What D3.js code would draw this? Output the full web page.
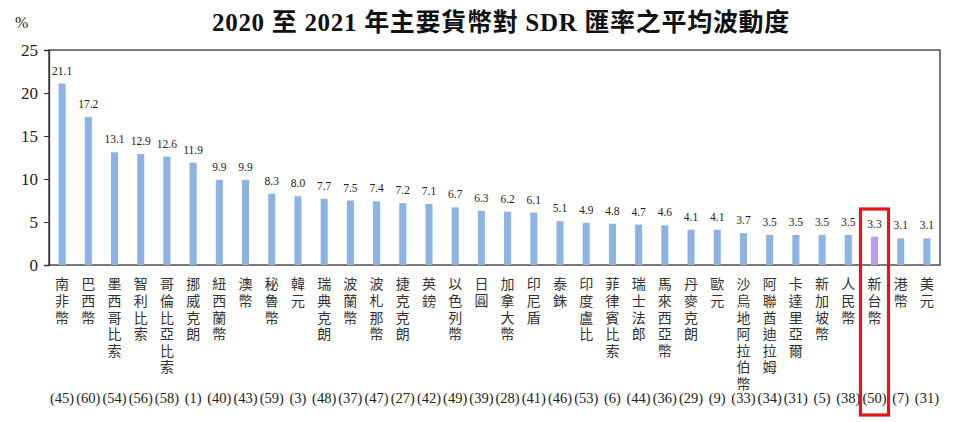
<!DOCTYPE html>
<html><head><meta charset="utf-8">
<script src="https://cdn.jsdelivr.net/npm/d3@7"></script>
<style>body{margin:0;background:#fff}svg{display:block}</style>
</head><body>
<script>
const categories = ["南非幣","巴西幣","墨西哥比索","智利比索","哥倫比亞比索","挪威克朗","紐西蘭幣","澳幣","秘魯幣","韓元","瑞典克朗","波蘭幣","波札那幣","捷克克朗","英鎊","以色列幣","日圓","加拿大幣","印尼盾","泰銖","印度盧比","菲律賓比索","瑞士法郎","馬來西亞幣","丹麥克朗","歐元","沙烏地阿拉伯幣","阿聯酋迪拉姆","卡達里亞爾","新加坡幣","人民幣","新台幣","港幣","美元"];
const values = [21.1,17.2,13.1,12.9,12.6,11.9,9.9,9.9,8.3,8.0,7.7,7.5,7.4,7.2,7.1,6.7,6.3,6.2,6.1,5.1,4.9,4.8,4.7,4.6,4.1,4.1,3.7,3.5,3.5,3.5,3.5,3.3,3.1,3.1];
const ranks = ["(45)","(60)","(54)","(56)","(58)","(1)","(40)","(43)","(59)","(3)","(48)","(37)","(47)","(27)","(42)","(49)","(39)","(28)","(41)","(46)","(53)","(6)","(44)","(36)","(29)","(9)","(33)","(34)","(31)","(5)","(38)","(50)","(7)","(31)"];
const yTicks = [0,5,10,15,20,25];
const highlight = "新台幣";
const title = "2020 至 2021 年主要貨幣對 SDR 匯率之平均波動度";

const W = 960, H = 422;
const m = {left:49, right:20, top:50, bottom:157};
const svg = d3.select("body").append("svg").attr("width",W).attr("height",H);
const x = d3.scaleBand().domain(categories).range([m.left, W-m.right]).paddingInner(0.73).paddingOuter(0.365);
const y = d3.scaleLinear().domain([0,25]).range([H-m.bottom, m.top]);
const serif = "'Liberation Serif','Times New Roman',serif";
const cjk = "'Noto Sans CJK TC','Noto Sans CJK SC',sans-serif";

svg.append("text").attr("x",501).attr("y",31).attr("text-anchor","middle")
  .attr("font-family",serif+","+cjk).attr("font-weight","bold").attr("font-size",25)
  .attr("letter-spacing",0.7).attr("fill","#111").text(title);
svg.append("text").attr("x",15).attr("y",28).attr("font-family",serif).attr("font-size",16).attr("fill","#222").text("%");

// frame
svg.append("rect").attr("x",m.left).attr("y",m.top).attr("width",W-m.right-m.left).attr("height",y(0)-m.top)
  .attr("fill","none").attr("stroke","#333").attr("stroke-width",1.3);

const ya = svg.append("g").attr("transform",`translate(${m.left},0)`)
  .call(d3.axisLeft(y).tickValues(yTicks).tickSize(5).tickPadding(6));
ya.select(".domain").attr("stroke","#333").attr("stroke-width",1.3);
ya.selectAll(".tick line").attr("stroke","#333");
ya.selectAll("text").attr("font-family",serif).attr("font-size",17).attr("fill","#222");

svg.append("g").selectAll("rect").data(categories).join("rect")
  .attr("x",d=>x(d)).attr("width",x.bandwidth())
  .attr("y",(d,i)=>y(values[i])).attr("height",(d,i)=>y(0)-y(values[i]))
  .attr("fill",d=>d===highlight?"#c19bee":"#8db3e2");

svg.append("g").selectAll("text").data(categories).join("text")
  .attr("x",d=>x(d)+x.bandwidth()/2).attr("y",(d,i)=>y(values[i])-9)
  .attr("text-anchor","middle").attr("font-family",serif).attr("font-size",11.5).attr("fill","#222")
  .text((d,i)=>values[i].toFixed(1));

// vertical category labels
svg.append("g").selectAll("text").data(categories).join("text")
  .attr("x",d=>x(d)+x.bandwidth()/2).attr("y",y(0)+12)
  .attr("writing-mode","vertical-rl").style("text-orientation","upright")
  .attr("letter-spacing",2.6)
  .attr("font-family",cjk).attr("font-size",14).attr("fill","#333")
  .text(d=>d);

svg.append("g").selectAll("text").data(categories).join("text")
  .attr("x",d=>x(d)+x.bandwidth()/2).attr("y",403).attr("text-anchor","middle")
  .attr("font-family",serif).attr("font-size",14.5).attr("fill","#222").text((d,i)=>ranks[i]);

// highlight box
const hx = x(highlight)+x.bandwidth()/2;
svg.append("rect").attr("x",hx-14).attr("y",209).attr("width",28).attr("height",206)
  .attr("fill","none").attr("stroke","#e8141b").attr("stroke-width",3.2);
</script>
</body></html>
